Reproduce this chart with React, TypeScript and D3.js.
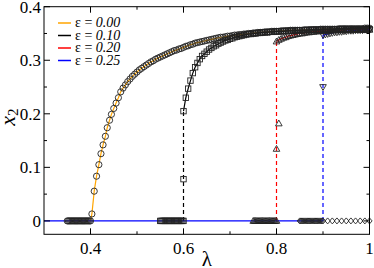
import React from 'react'
import * as d3 from 'd3'

// shared lambda grid for the saturated branches (0.465 .. 1.0)
const lambdaGrid = [
	0.465, 0.47, 0.475, 0.48, 0.485, 0.49, 0.495, 0.5, 0.505, 0.51,
	0.515, 0.52, 0.525, 0.53, 0.535, 0.54, 0.545, 0.55, 0.555, 0.56,
	0.565, 0.57, 0.575, 0.58, 0.585, 0.59, 0.595, 0.6, 0.605, 0.61,
	0.615, 0.62, 0.625, 0.63, 0.635, 0.64, 0.645, 0.65, 0.655, 0.66,
	0.665, 0.67, 0.675, 0.68, 0.685, 0.69, 0.695, 0.7, 0.705, 0.71,
	0.715, 0.72, 0.725, 0.73, 0.735, 0.74, 0.745, 0.75, 0.755, 0.76,
	0.765, 0.77, 0.775, 0.78, 0.785, 0.79, 0.795, 0.8, 0.805, 0.81,
	0.815, 0.82, 0.825, 0.83, 0.835, 0.84, 0.845, 0.85, 0.855, 0.86,
	0.865, 0.87, 0.875, 0.88, 0.885, 0.89, 0.895, 0.9, 0.905, 0.91,
	0.915, 0.92, 0.925, 0.93, 0.935, 0.94, 0.945, 0.95, 0.955, 0.96,
	0.965, 0.97, 0.975, 0.98, 0.985, 0.99, 0.995, 1.0
]

// absorbing (x2 = 0) points
const flat00 = [0.35, 0.3525, 0.355, 0.3575, 0.36, 0.3625, 0.365, 0.3675, 0.37, 0.3725, 0.375, 0.3775, 0.38, 0.3825, 0.385, 0.3875, 0.39, 0.3925, 0.395, 0.3975, 0.4]
const flat10 = [0.55, 0.5525, 0.555, 0.5575, 0.56, 0.5625, 0.565, 0.5675, 0.57, 0.5725, 0.575, 0.5775, 0.58, 0.5825, 0.585, 0.5875, 0.59, 0.5925, 0.595, 0.5975, 0.6]
const flat20 = [0.75, 0.7525, 0.755, 0.7575, 0.76, 0.7625, 0.765, 0.7675, 0.77, 0.7725, 0.775, 0.7775, 0.78, 0.7825, 0.785, 0.7875, 0.79, 0.7925, 0.795, 0.7975, 0.8]
const flat25 = [0.85, 0.8525, 0.855, 0.8575, 0.86, 0.8625, 0.865, 0.8675, 0.87, 0.8725, 0.875, 0.8775, 0.88, 0.8825, 0.885, 0.8875, 0.89, 0.8925, 0.895, 0.8975, 0.9]
const flatTail = [0.91, 0.92, 0.93, 0.94, 0.95, 0.96, 0.97, 0.98, 0.99, 1.0]

// eps = 0.00, rising part
const steep00Lambda = [0.403, 0.408, 0.413, 0.418, 0.4225, 0.427, 0.432, 0.436, 0.441, 0.445, 0.45, 0.455, 0.46]
const steep00X2 = [0.013, 0.0555, 0.0835, 0.105, 0.1255, 0.142, 0.158, 0.174, 0.188, 0.199, 0.21, 0.22, 0.23]

// saturated branches, aligned to the END of lambdaGrid
const upper00 = [
	0.241, 0.248, 0.254, 0.26, 0.265, 0.27, 0.274, 0.278, 0.282, 0.285,
	0.288, 0.291, 0.294, 0.297, 0.299, 0.302, 0.304, 0.306, 0.308, 0.31,
	0.312, 0.314, 0.316, 0.318, 0.319, 0.321, 0.322, 0.324, 0.326, 0.327,
	0.329, 0.33, 0.332, 0.333, 0.334, 0.335, 0.336, 0.337, 0.338, 0.339,
	0.34, 0.341, 0.342, 0.343, 0.343, 0.344, 0.345, 0.345, 0.346, 0.347,
	0.347, 0.348, 0.348, 0.349, 0.349, 0.35, 0.35, 0.351, 0.351, 0.352,
	0.352, 0.352, 0.353, 0.353, 0.353, 0.354, 0.354, 0.354, 0.354, 0.355,
	0.355, 0.355, 0.355, 0.356, 0.356, 0.356, 0.356, 0.356, 0.356, 0.357,
	0.357, 0.357, 0.357, 0.357, 0.357, 0.357, 0.358, 0.358, 0.358, 0.358,
	0.358, 0.358, 0.358, 0.358, 0.359, 0.359, 0.359, 0.359, 0.359, 0.359,
	0.359, 0.359, 0.359, 0.359, 0.359, 0.36, 0.36, 0.36
]
const upper10 = [
	0.205, 0.23, 0.247, 0.262, 0.276, 0.287, 0.295, 0.302, 0.308, 0.312,
	0.316, 0.32, 0.323, 0.326, 0.328, 0.331, 0.333, 0.335, 0.337, 0.338,
	0.34, 0.341, 0.343, 0.344, 0.345, 0.346, 0.347, 0.348, 0.349, 0.349,
	0.35, 0.35, 0.351, 0.351, 0.352, 0.352, 0.352, 0.353, 0.353, 0.353,
	0.354, 0.354, 0.354, 0.354, 0.355, 0.355, 0.355, 0.355, 0.355, 0.356,
	0.356, 0.356, 0.356, 0.356, 0.356, 0.357, 0.357, 0.357, 0.357, 0.357,
	0.357, 0.357, 0.357, 0.357, 0.357, 0.358, 0.358, 0.358, 0.358, 0.358,
	0.358, 0.358, 0.358, 0.358, 0.358, 0.358, 0.358, 0.358, 0.358, 0.358,
	0.358
]
const upper20 = [
	0.335, 0.338, 0.34, 0.342, 0.343, 0.345, 0.346, 0.347, 0.348, 0.349,
	0.35, 0.35, 0.351, 0.352, 0.352, 0.353, 0.353, 0.354, 0.354, 0.354,
	0.355, 0.355, 0.355, 0.355, 0.356, 0.356, 0.356, 0.356, 0.356, 0.356,
	0.357, 0.357, 0.357, 0.357, 0.357, 0.357, 0.357, 0.357, 0.357, 0.357,
	0.357
]
const upper25 = [
	0.347, 0.348, 0.349, 0.35, 0.351, 0.352, 0.352, 0.353, 0.353, 0.354,
	0.354, 0.355, 0.355, 0.355, 0.356, 0.356, 0.356, 0.356, 0.357, 0.357,
	0.357
]

// isolated points on the jumps
const jump10 = [[0.6, 0.078]]
const jump20 = [[0.8, 0.1345], [0.805, 0.182]]
const jump25 = [[0.9, 0.25]]

const legendLabels = ['0.00', '0.10', '0.20', '0.25']
const legendColors = ['#FFA500', '#000000', '#FF0000', '#0000FF']
const xMajor = [0.4, 0.6, 0.8, 1.0]
const xMinor = [0.5, 0.7, 0.9]
const yMajor = [0, 0.1, 0.2, 0.3, 0.4]
const yMinor = [0.05, 0.15, 0.25, 0.35]

const W = 374
const H = 268
const left = 44
const right = 369.5
const top = 6.7
const bottom = 234.3
const serif = { fontFamily: "'Liberation Serif'" }
const mk = '#222'

type P = [number, number]
const onGrid = (vals: number[]): P[] =>
	vals.map((v, i) => [lambdaGrid[lambdaGrid.length - vals.length + i], v])
const zeros = (ls: number[]): P[] => ls.map(l => [l, 0])

const App = () => {
	const x = d3.scaleLinear().domain([0.3, 1.0]).range([left, right])
	const y = d3.scaleLinear().domain([-0.025, 0.4]).range([bottom, top])
	const line = d3.line<P>().x(d => x(d[0])).y(d => y(d[1]))

	const steep00: P[] = steep00Lambda.map((l, i) => [l, steep00X2[i]])
	const up00 = onGrid(upper00)
	const up10 = onGrid(upper10)
	const up20 = onGrid(upper20)
	const up25 = onGrid(upper25)

	const sw = 0.9
	const circle = (p: P, k: string) => (
		<circle key={k} cx={x(p[0])} cy={y(p[1])} r={3.1} fill="none" stroke={mk} strokeWidth={sw} />
	)
	const square = (p: P, k: string) => (
		<rect key={k} x={x(p[0]) - 2.7} y={y(p[1]) - 2.7} width={5.4} height={5.4} fill="none" stroke={mk} strokeWidth={sw} />
	)
	const triUp = (p: P, k: string) => {
		const cx = x(p[0]), cy = y(p[1])
		return <path key={k} d={`M${cx},${cy - 3.4}L${cx + 3.3},${cy + 2.4}L${cx - 3.3},${cy + 2.4}Z`} fill="none" stroke={mk} strokeWidth={sw} />
	}
	const triDown = (p: P, k: string) => {
		const cx = x(p[0]), cy = y(p[1])
		return <path key={k} d={`M${cx},${cy + 3.4}L${cx + 3.3},${cy - 2.4}L${cx - 3.3},${cy - 2.4}Z`} fill="none" stroke={mk} strokeWidth={sw} />
	}
	const diamond = (p: P, k: string) => {
		const cx = x(p[0]), cy = y(p[1])
		return <path key={k} d={`M${cx},${cy - 3}L${cx + 2.6},${cy}L${cx},${cy + 3}L${cx - 2.6},${cy}Z`} fill="none" stroke={mk} strokeWidth={sw} />
	}

	return (
		<svg width={W} height={H} style={{ position: 'absolute', left: 0, top: 0, background: '#fff' }}>
			{/* curves */}
			<g fill="none" strokeWidth={1.2}>
				<path d={line([...zeros(flat00), ...steep00, ...up00]) || ''} stroke={legendColors[0]} />
				<path d={line(up10) || ''} stroke={legendColors[1]} />
				<path d={line([[0.6, 0], up10[0]]) || ''} stroke={legendColors[1]} strokeDasharray="4,3" />
				<path d={line(up20) || ''} stroke={legendColors[2]} />
				<path d={line([[0.8, 0], up20[0]]) || ''} stroke={legendColors[2]} strokeDasharray="4,3" />
				<path d={line([[0.3, 0], [0.9, 0]]) || ''} stroke={legendColors[3]} />
				<path d={line(up25) || ''} stroke={legendColors[3]} />
				<path d={line([[0.9, 0], up25[0]]) || ''} stroke={legendColors[3]} strokeDasharray="4,3" />
			</g>
			{/* symbols */}
			<g>
				{zeros(flat00).map((p, i) => circle(p, 'a' + i))}
				{steep00.map((p, i) => circle(p, 'b' + i))}
				{up00.map((p, i) => circle(p, 'c' + i))}
				{zeros(flat10).map((p, i) => square(p, 'd' + i))}
				{(jump10 as P[]).map((p, i) => square(p, 'e' + i))}
				{up10.map((p, i) => square(p, 'f' + i))}
				{zeros(flat20).map((p, i) => triUp(p, 'g' + i))}
				{(jump20 as P[]).map((p, i) => triUp(p, 'h' + i))}
				{up20.map((p, i) => triUp(p, 'i' + i))}
				{zeros(flat25).map((p, i) => diamond(p, 'j' + i))}
				{zeros(flatTail).map((p, i) => diamond(p, 'k' + i))}
				{(jump25 as P[]).map((p, i) => triDown(p, 'l' + i))}
				{up25.map((p, i) => triDown(p, 'm' + i))}
			</g>
			{/* frame + ticks */}
			<rect x={left} y={top} width={right - left} height={bottom - top} fill="none" stroke="#000" strokeWidth={1} />
			<g stroke="#000" strokeWidth={1}>
				{xMajor.map(t => (
					<g key={'xm' + t}>
						<line x1={x(t)} x2={x(t)} y1={bottom} y2={bottom - 6} />
						<line x1={x(t)} x2={x(t)} y1={top} y2={top + 6} />
					</g>
				))}
				{xMinor.map(t => (
					<g key={'xn' + t}>
						<line x1={x(t)} x2={x(t)} y1={bottom} y2={bottom - 3} />
						<line x1={x(t)} x2={x(t)} y1={top} y2={top + 3} />
					</g>
				))}
				{yMajor.map(t => (
					<g key={'ym' + t}>
						<line x1={left} x2={left + 6} y1={y(t)} y2={y(t)} />
						<line x1={right} x2={right - 6} y1={y(t)} y2={y(t)} />
					</g>
				))}
				{yMinor.map(t => (
					<g key={'yn' + t}>
						<line x1={left} x2={left + 3} y1={y(t)} y2={y(t)} />
						<line x1={right} x2={right - 3} y1={y(t)} y2={y(t)} />
					</g>
				))}
			</g>
			<g fontSize={17} fill="#000">
				{xMajor.map(t => (
					<text key={'xl' + t} style={serif} x={x(t)} y={253.5} textAnchor="middle">{d3.format('')(t)}</text>
				))}
				{yMajor.map(t => (
					<text key={'yl' + t} style={serif} x={41} y={y(t)} dy="0.35em" textAnchor="end">{d3.format('')(t)}</text>
				))}
			</g>
			<text style={serif} x={(left + right) / 2} y={266} textAnchor="middle" fontSize={21}>λ</text>
			<text style={serif} transform="translate(15,117) rotate(-90)" textAnchor="middle" fontSize={22}>
				<tspan fontStyle="italic">x</tspan>
				<tspan fontSize={15} dy={3}>2</tspan>
			</text>
			{/* legend */}
			<g fontSize={14}>
				{legendLabels.map((lab, i) => (
					<g key={lab} transform={`translate(0, ${23 + i * 12.5})`}>
						<line x1={58} x2={71} y1={0} y2={0} stroke={legendColors[i]} strokeWidth={1.5} />
						<text style={serif} x={75} y={4.3}>
							ε = <tspan fontStyle="italic">{lab}</tspan>
						</text>
					</g>
				))}
			</g>
		</svg>
	)
}

export default App
